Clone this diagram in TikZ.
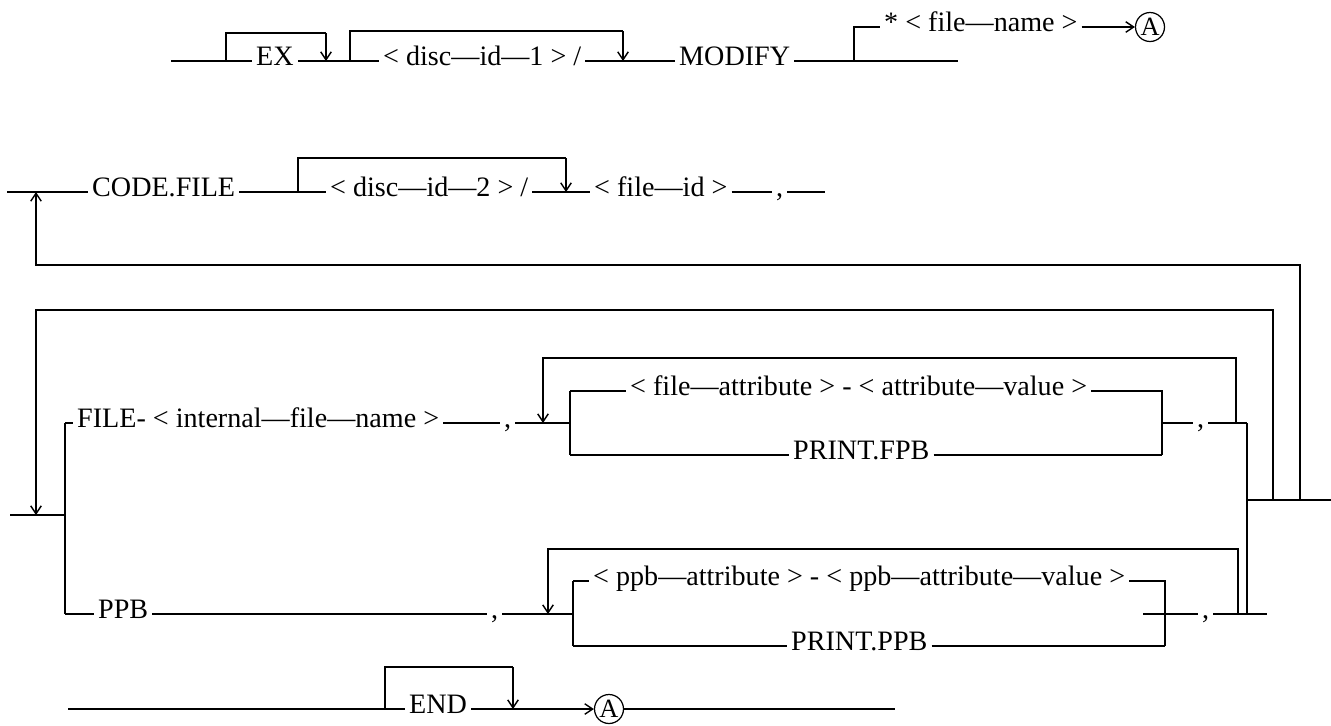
\documentclass[tikz,border=0pt]{standalone}
\usepackage{fontspec}
\setmainfont{Liberation Serif}
\usepackage{tikz}
\usetikzlibrary{arrows.meta}

\begin{document}
\begin{tikzpicture}[x=0.02cm, y=-0.02cm, line width=0.8pt, font=\fontsize{16}{19}\selectfont,
    word/.style = {anchor=west, inner xsep=2pt, inner ysep=0pt, text height=0.7em, text depth=0.14em},
    circ/.style = {draw, circle, inner sep=0pt, minimum size=0.58cm, line width=0.7pt, font=\fontsize{15}{15}\selectfont},
    tip/.style = {-{Straight Barb[length=4.5pt, width=6pt]}}]
    \useasboundingbox (0,0) rectangle (1331,725);

    % 第一行
    \coordinate (r1s) at (171,61);
    \coordinate (ex1) at (226,61);
    \coordinate (ex2t) at (326,33);
    \coordinate (ex2) at (326,61);
    \node[word] (ex) at (252,61) {EX};
    \coordinate (d1a) at (350,61);
    \coordinate (d1t) at (623,31);
    \coordinate (d1b) at (623,61);
    \node[word] (disc1) at (379,61) {< disc—id—1 > /};
    \node[word] (modify) at (675,61) {MODIFY};
    \coordinate (br1) at (854,61);
    \coordinate (r1e) at (958,61);
    \node[word] (fname) at (880,27) {* < file—name >};
    \node[circ] (a1) at (1150,27) {A};

    \draw (r1s) -- (ex);
    \draw (ex1) |- (ex2t);
    \draw[tip] (ex2t) -- (ex2);
    \draw (ex) -- (disc1);
    \draw (d1a) |- (d1t);
    \draw[tip] (d1t) -- (d1b);
    \draw (disc1) -- (modify);
    \draw (modify) -- (r1e);
    \draw (br1) |- (fname);
    \draw[tip] (fname) -- (a1);

    % 第二行
    \coordinate (r2s) at (7,192);
    \coordinate (up2) at (36,192);
    \node[word] (code) at (88,192) {CODE.FILE};
    \coordinate (c2a) at (298,192);
    \coordinate (c2t) at (566,158);
    \coordinate (c2b) at (566,192);
    \node[word] (disc2) at (326,192) {< disc—id—2 > /};
    \node[word] (fileid) at (590,192) {< file—id >};
    \node[word] (cm2) at (772,192) {,};
    \coordinate (r2e) at (825,192);

    \draw (r2s) -- (code);
    \draw (code) -- (disc2);
    \draw (c2a) |- (c2t);
    \draw[tip] (c2t) -- (c2b);
    \draw (disc2) -- (fileid);
    \draw (fileid) -- (cm2);
    \draw (cm2) -- (r2e);

    % 大回路
    \coordinate (la1) at (1300,500);
    \coordinate (la2) at (36,265);
    \draw[tip] (la1) |- (la2) -- (up2);
    \coordinate (lb1) at (1273,500);
    \coordinate (lb2) at (36,310);
    \coordinate (dn3) at (36,515);
    \draw[tip] (lb1) |- (lb2) -- (dn3);

    % FILE 分支
    \coordinate (r3s) at (10,515);
    \coordinate (jl) at (65,515);
    \coordinate (jlt) at (65,423);
    \coordinate (jlb) at (65,614);
    \draw (r3s) -- (jl);
    \draw (jlt) -- (jlb);
    \node[word] (fileN) at (73,423) {FILE- < internal—file—name >};
    \node[word] (cmF) at (500,423) {,};
    \coordinate (dnF) at (543,423);
    \coordinate (brF) at (570,423);
    \coordinate (brFt) at (570,391);
    \coordinate (brFb) at (570,455);
    \node[word] (attrF) at (626,391) {< file—attribute > - < attribute—value >};
    \node[word] (prtF) at (789,455) {PRINT.FPB};
    \coordinate (bxFt) at (1162,391);
    \coordinate (bxFb) at (1162,455);
    \coordinate (bxF) at (1162,423);
    \node[word] (cmF2) at (1193,423) {,};
    \coordinate (jF) at (1247,423);

    \draw (jlt) -- (fileN);
    \draw (fileN) -- (cmF);
    \draw (cmF) -- (brF);
    \draw (brFt) -- (brFb);
    \draw (brFt) -- (attrF);
    \draw (attrF) -- (bxFt) -- (bxFb);
    \draw (brFb) -- (prtF) -- (bxFb);
    \draw (bxF) -- (cmF2) -- (jF);
    \coordinate (li1) at (1236,423);
    \coordinate (li2) at (543,358);
    \draw[tip] (li1) |- (li2) -- (dnF);

    % 右侧汇合
    \coordinate (jP) at (1247,614);
    \coordinate (rj) at (1247,500);
    \coordinate (re) at (1331,500);
    \draw (jF) -- (jP);
    \draw (rj) -- (re);

    % PPB 分支
    \node[word] (ppb) at (94,614) {PPB};
    \node[word] (cmP) at (487,614) {,};
    \coordinate (dnP) at (548,614);
    \coordinate (brP) at (573,614);
    \coordinate (brPt) at (573,581);
    \coordinate (brPb) at (573,646);
    \node[word] (attrP) at (589,581) {< ppb—attribute > - < ppb—attribute—value >};
    \node[word] (prtP) at (787,646) {PRINT.PPB};
    \coordinate (bxPt) at (1165,581);
    \coordinate (bxPb) at (1165,646);
    \coordinate (bxP) at (1143,614);
    \node[word] (cmP2) at (1198,614) {,};
    \coordinate (jPe) at (1267,614);

    \draw (jlb) -- (ppb);
    \draw (ppb) -- (cmP);
    \draw (cmP) -- (brP);
    \draw (brPt) -- (brPb);
    \draw (brPt) -- (attrP);
    \draw (attrP) -- (bxPt) -- (bxPb);
    \draw (brPb) -- (prtP) -- (bxPb);
    \draw (bxP) -- (cmP2) -- (jPe);
    \coordinate (lp1) at (1238,614);
    \coordinate (lp2) at (548,549);
    \draw[tip] (lp1) |- (lp2) -- (dnP);

    % END 行
    \coordinate (r5s) at (68,709);
    \coordinate (e1) at (385,709);
    \coordinate (e2t) at (513,667);
    \coordinate (e2) at (513,709);
    \node[word] (endN) at (405,709) {END};
    \node[circ] (a2) at (609,709) {A};
    \coordinate (r5e) at (895,709);

    \draw (r5s) -- (endN);
    \draw (e1) |- (e2t);
    \draw[tip] (e2t) -- (e2);
    \draw[tip] (endN) -- (a2);
    \draw (a2) -- (r5e);
\end{tikzpicture}
\end{document}
